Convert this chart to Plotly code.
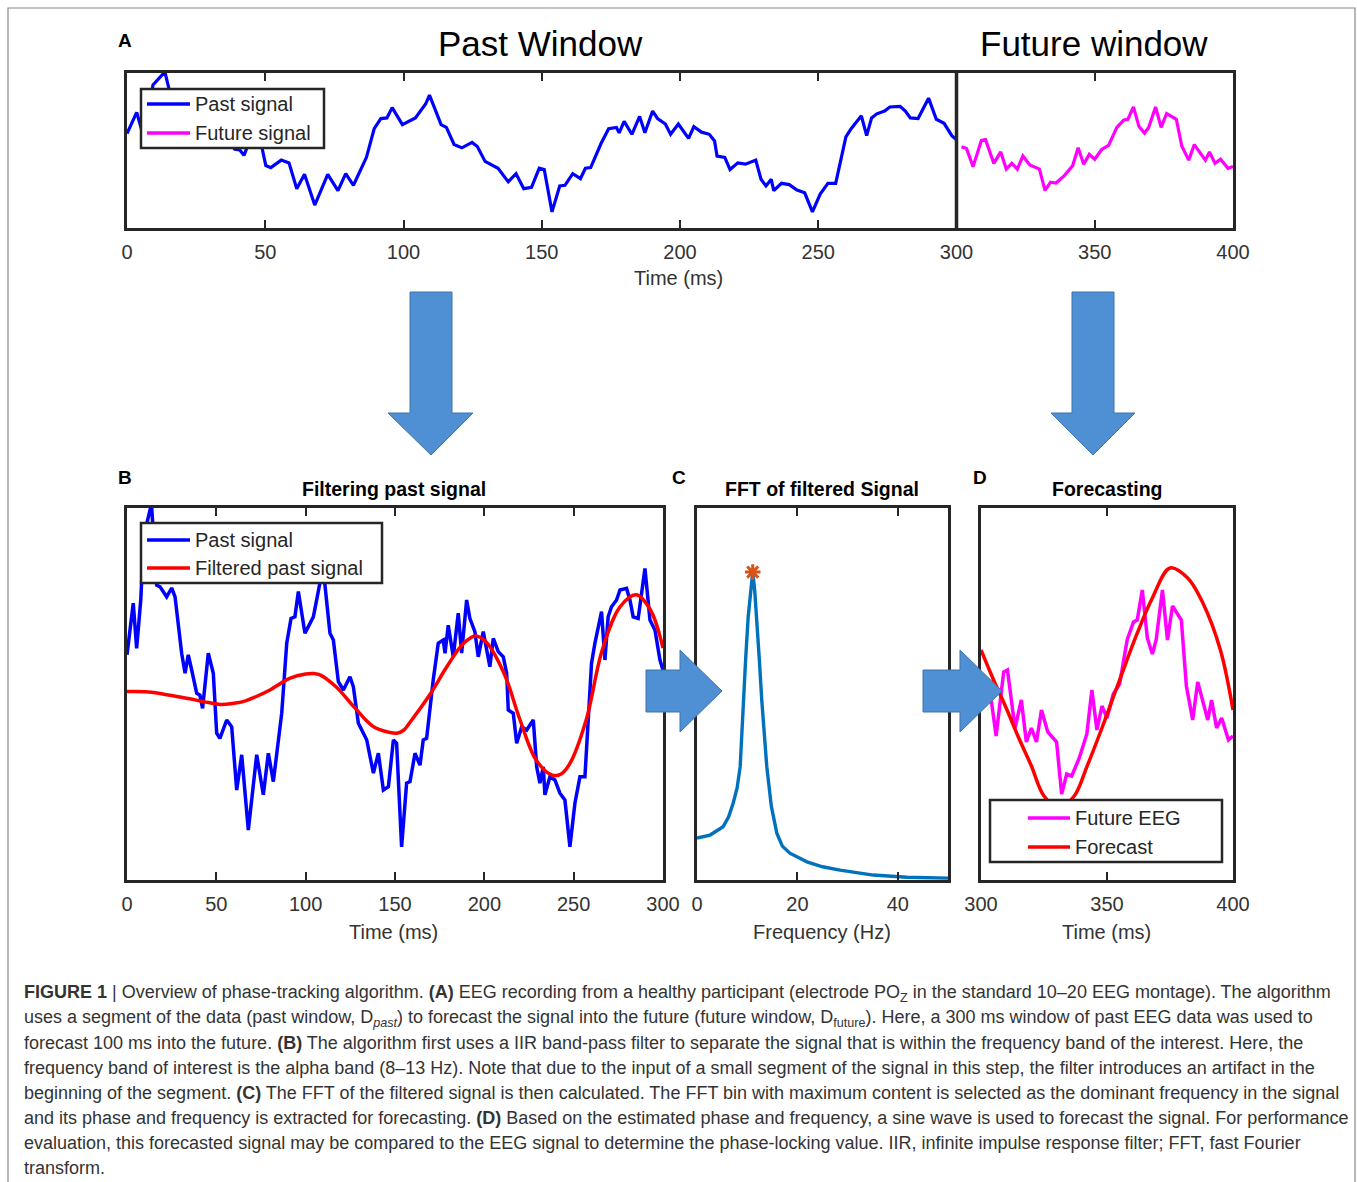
import plotly.graph_objects as go

W, H = 1357, 1182
FONT = "Liberation Sans, Arial, Helvetica, sans-serif"
AX_COLOR = "#262626"

# ---------------- data ----------------
# EEG at electrode POz, past window (ms, µV)
past_t = [0, 3.5, 5.4, 7.7, 9.4, 13.7, 16.6, 18.5, 22.2, 25.0, 26.9, 30.6, 32.5, 34.3, 36.2,
          39.0, 40.8, 42.3, 45.5, 48.3, 50.2, 52.0, 55.8, 58.6, 61.4, 64.2, 67.9, 72.6, 76.3,
          79.1, 81.9, 86.6, 89.4, 91.8, 94.0, 95.9, 99.6, 104.3, 108.0, 109.4, 110.5, 113.6,
          115.5, 118.3, 121.1, 124.8, 126.7, 129.5, 134.2, 137.9, 140.7, 143.5, 146.3, 149.1,
          150.9, 153.7, 156.5, 158.4, 161.2, 164.0, 165.8, 167.7, 171.4, 174.2, 177.0, 178.0,
          179.8, 182.6, 185.4, 187.3, 190.1, 191.9, 194.7, 196.6, 199.4, 203.1, 205.0, 207.8,
          210.6, 212.5, 213.4, 216.2, 218.1, 220.9, 223.7, 227.4, 229.3, 231.1, 233.0, 233.9,
          236.7, 239.5, 242.3, 245.1, 247.9, 250.7, 253.5, 256.3, 260.0, 261.9, 265.6, 267.5,
          269.3, 271.2, 274.0, 275.9, 279.6, 281.5, 283.3, 286.1, 289.9, 292.7, 295.5, 298.3,
          300.0]
past_uv = [9.8, 22.7, 11.4, 23.5, 39.5, 47.5, 27.2, 26.8, 24.3, 26.5, 24.3, 10.2, 5.2, 9.8, 6.0,
           0.2, -0.3, -3.6, 10.2, 5.2, -9.8, -11.1, -6.5, -8.2, -24.0, -15.2, -34.0, -15.2, -25.2,
           -14.8, -21.9, -4.8, 12.7, 18.9, 19.3, 25.6, 15.2, 19.3, 27.8, 33.3, 28.5, 15.2,
           13.5, 3.1, 1.0, 4.3, 1.8, -7.3, -11.5, -19.8, -14.8, -24.0, -23.2, -11.5,
           -12.3, -38.2, -22.3, -21.9, -14.8, -17.8, -11.5, -11.1, 3.5, 12.7, 13.5, 10.2,
           17.2, 9.3, 20.2, 10.2, 23.5, 18.9, 15.6, 9.3, 15.6, 6.8, 13.9, 10.6,
           9.3, 5.2, -4.0, -4.8, -12.3, -8.2, -9.0, -6.5, -18.2, -22.3, -18.2, -25.2,
           -20.7, -21.5, -24.8, -26.5, -38.2, -27.3, -20.7, -20.7, 7.7, 12.7, 20.6, 8.5,
           19.3, 21.8, 23.5, 26.0, 26.4, 23.5, 19.3, 18.9, 31.4, 18.5, 16.0, 8.5,
           6.0]

# EEG in the future window (ms, µV)
future_t = [301.8, 303.6, 306.0, 309.0, 310.5, 313.5, 316.0, 318.0, 320.0, 322.0, 324.0, 326.5,
            330.0, 332.0, 334.0, 336.0, 339.0, 342.0, 344.0, 346.0, 348.0, 350.0, 352.5, 355.0,
            358.0, 360.5, 362.0, 364.0, 366.0, 368.0, 369.5, 372.0, 374.0, 376.0, 379.5, 381.5,
            384.0, 386.0, 390.0, 391.5, 393.5, 395.5, 398.2, 400.0]
future_uv = [1.7, 0.6, -10.5, 5.5, 6.0, -8.5, -1.5, -12.0, -8.5, -12.0, -4.0, -9.5,
             -12.0, -25.0, -20.0, -20.5, -16.0, -10.0, 1.0, -9.0, -3.0, -6.0, 0.0, 2.5,
             13.5, 18.0, 18.5, 26.0, 14.0, 10.0, 13.5, 26.0, 13.5, 22.0, 18.5, 2.0,
             -6.5, 3.0, -6.5, -1.5, -8.5, -6.0, -11.5, -10.5]

# IIR band-pass (8-13 Hz) output over the past window (ms, µV)
filtered_t = [0, 12, 24, 35, 43, 52, 60, 65, 73, 80, 91, 100, 105, 108, 117, 127, 138, 147, 151,
              155, 158, 170, 179, 188, 195, 201, 211, 220, 229, 238, 243, 248, 257, 266, 276,
              285, 293, 300]
filtered_uv = [0.6, 0.5, -0.3, -1.2, -1.9, -2.6, -2.3, -1.9, -0.5, 1.0, 3.9, 5.0, 5.1, 4.8, 1.8,
               -3.2, -8.2, -9.6, -9.8, -9.0, -7.3, 0.2, 6.8, 12.5, 14.5, 13.0, 5.2, -6.5, -16.5,
               -20.3, -20.0, -17.3, -6.5, 11.0, 21.8, 24.8, 21.0, 11.5]

# Sine-wave forecast over the future window (ms, µV)
forecast_t = [300, 305, 310, 315, 320, 325, 331, 337, 342, 348, 355, 362, 368, 375, 382, 388,
              395, 400]
forecast_uv = [11.0, 3.5, -3.5, -11.0, -18.0, -25.5, -28.5, -25.5, -18.2, -8.5, 3.5, 15.2,
               24.0, 31.5, 29.0, 22.8, 11.0, -4.0]

# FFT magnitude of the filtered signal (Hz, normalised)
fft_freq = [0, 2.6, 5.2, 6.3, 7.2, 8.0, 8.6, 9.2, 9.7, 10.2, 10.7, 11.1, 11.5, 11.9, 12.4,
            12.9, 13.4, 13.9, 14.8, 15.9, 17.0, 18.5, 21.9, 25.0, 28.5, 35.1, 41.8, 50.0]
fft_power = [0.136, 0.146, 0.173, 0.205, 0.249, 0.30, 0.368, 0.584, 0.72, 0.855, 0.94, 1.0,
             0.94, 0.855, 0.72, 0.584, 0.47, 0.368, 0.24, 0.152, 0.11, 0.087, 0.059, 0.043,
             0.032, 0.016, 0.009, 0.006]

A_TICKS = [0, 50, 100, 150, 200, 250, 300, 350, 400]
B_TICKS = [0, 50, 100, 150, 200, 250, 300]
C_TICKS = [0, 20, 40]
D_TICKS = [300, 350, 400]
WINDOW_SPLIT = 300

BLUE, MAGENTA, RED = "#0000FF", "#FF00FF", "#FF0000"
FFT_BLUE, PEAK_ORANGE = "#0072BD", "#D95319"
ARROW_FILL, ARROW_EDGE = "#4F8FD3", "#3E74AC"


# ---------------- helpers (pixel -> paper) ----------------
def fx(x):
    return x / W


def fy(y):
    return 1 - y / H


def xaxis_style(x0, x1, rng, ticks):
    return dict(domain=[fx(x0), fx(x1)], range=rng, tickvals=ticks, ticks="inside", ticklen=8,
                tickwidth=2, tickcolor=AX_COLOR, showline=True, linewidth=3, linecolor=AX_COLOR,
                mirror="ticks", showgrid=False, zeroline=False, automargin=False, fixedrange=True,
                tickfont=dict(family=FONT, size=20, color="#333333"), ticklabelstandoff=4)


def yaxis_style(y0, y1, rng):
    return dict(domain=[fy(y1), fy(y0)], range=rng, showline=True, linewidth=3,
                linecolor=AX_COLOR, mirror=True, ticks="", showticklabels=False, showgrid=False,
                zeroline=False, automargin=False, fixedrange=True)


fig = go.Figure()

# ---------------- A: past / future window ----------------
fig.add_trace(go.Scatter(x=past_t, y=past_uv, mode="lines", line=dict(color=BLUE, width=3.2),
                         xaxis="x", yaxis="y", showlegend=False))
fig.add_trace(go.Scatter(x=future_t, y=future_uv, mode="lines",
                         line=dict(color=MAGENTA, width=3.2), xaxis="x", yaxis="y",
                         showlegend=False))

# ---------------- B: filtering ----------------
fig.add_trace(go.Scatter(x=past_t, y=past_uv, mode="lines", line=dict(color=BLUE, width=3.5),
                         xaxis="x2", yaxis="y2", showlegend=False))
fig.add_trace(go.Scatter(x=filtered_t, y=filtered_uv, mode="lines",
                         line=dict(color=RED, width=3.5, shape="spline", smoothing=1.0),
                         xaxis="x2", yaxis="y2", showlegend=False))

# ---------------- C: FFT ----------------
fig.add_trace(go.Scatter(x=fft_freq, y=fft_power, mode="lines",
                         line=dict(color=FFT_BLUE, width=3.4), xaxis="x3", yaxis="y3",
                         showlegend=False))
peak_i = max(range(len(fft_power)), key=lambda i: fft_power[i])
fig.add_trace(go.Scatter(x=[fft_freq[peak_i]], y=[fft_power[peak_i]], mode="markers",
                         marker=dict(symbol="asterisk-open", size=13, color=PEAK_ORANGE,
                                     line=dict(color=PEAK_ORANGE, width=3)),
                         xaxis="x3", yaxis="y3", showlegend=False))

# ---------------- D: forecasting ----------------
fig.add_trace(go.Scatter(x=future_t, y=future_uv, mode="lines",
                         line=dict(color=MAGENTA, width=3.5), xaxis="x4", yaxis="y4",
                         showlegend=False))
fig.add_trace(go.Scatter(x=forecast_t, y=forecast_uv, mode="lines",
                         line=dict(color=RED, width=3.5, shape="spline", smoothing=1.0),
                         xaxis="x4", yaxis="y4", showlegend=False))

fig.update_layout(
    width=W, height=H, margin=dict(l=0, r=0, t=0, b=0),
    paper_bgcolor="white", plot_bgcolor="white", showlegend=False,
    font=dict(family=FONT, color="#262626"),
    xaxis=xaxis_style(127, 1233, [0, 400], A_TICKS),
    yaxis=yaxis_style(73, 228, [-48.05, 46.8]),
    xaxis2=xaxis_style(127, 663, [0, 300], B_TICKS),
    yaxis2=yaxis_style(508, 880, [-46.5, 46.5]),
    xaxis3=xaxis_style(697, 948, [0, 50], C_TICKS),
    yaxis3=yaxis_style(508, 880, [0, 1.208]),
    xaxis4=xaxis_style(981, 1233, [300, 400], D_TICKS),
    yaxis4=yaxis_style(508, 880, [-46.5, 46.5]),
)
for i in ["2", "3", "4"]:
    fig.layout["yaxis" + i].anchor = "x" + i
    fig.layout["xaxis" + i].anchor = "y" + i

shapes = []
annotations = []

# boundary between past and future windows in A
shapes.append(dict(type="line", xref="x", yref="y domain", x0=WINDOW_SPLIT, x1=WINDOW_SPLIT,
                   y0=0, y1=1, line=dict(color=AX_COLOR, width=3.5), layer="above"))


def text(x, y, s, size=20, bold=False, anchor="center", color="#262626"):
    annotations.append(dict(xref="paper", yref="paper", x=fx(x), y=fy(y),
                            text=f"<b>{s}</b>" if bold else s, showarrow=False,
                            xanchor=anchor, yanchor="middle", align="left",
                            font=dict(family=FONT, size=size, color=color)))


def legend_box(x0, y0, x1, y1, entries, line_x0, line_x1, text_x, rows):
    shapes.append(dict(type="rect", xref="paper", yref="paper", x0=fx(x0), x1=fx(x1),
                       y0=fy(y0), y1=fy(y1), fillcolor="white",
                       line=dict(color=AX_COLOR, width=2.5), layer="above"))
    for (label, color), ry in zip(entries, rows):
        shapes.append(dict(type="line", xref="paper", yref="paper", x0=fx(line_x0),
                           x1=fx(line_x1), y0=fy(ry), y1=fy(ry),
                           line=dict(color=color, width=3.5), layer="above"))
        text(text_x, ry, label, size=20, anchor="left")


legend_box(141, 89, 324, 148, [("Past signal", BLUE), ("Future signal", MAGENTA)],
           147, 190, 193, [104, 133])
legend_box(141, 523, 382, 583, [("Past signal", BLUE), ("Filtered past signal", RED)],
           147, 190, 193, [540, 568])
legend_box(990, 800, 1222, 862, [("Future EEG", MAGENTA), ("Forecast", RED)],
           1028, 1070, 1073, [818, 847])


# block arrows
def arrow(points):
    path = "M " + " L ".join(f"{fx(x):.5f},{fy(y):.5f}" for x, y in points) + " Z"
    shapes.append(dict(type="path", xref="paper", yref="paper", path=path,
                       fillcolor=ARROW_FILL, line=dict(color=ARROW_EDGE, width=1),
                       layer="above"))


arrow([(410, 292), (452, 292), (452, 413), (473, 413), (431, 455), (388, 413), (410, 413)])
arrow([(1072, 292), (1114, 292), (1114, 413), (1135, 413), (1093, 455), (1051, 413), (1072, 413)])
arrow([(646, 670), (680, 670), (680, 650), (722, 691), (680, 732), (680, 712), (646, 712)])
arrow([(923, 670), (960, 670), (960, 650), (1002, 691), (960, 732), (960, 712), (923, 712)])

# outer frame
shapes.append(dict(type="rect", xref="paper", yref="paper", x0=fx(8), x1=fx(1355), y0=fy(8),
                   y1=fy(1230), line=dict(color="#8a8a8a", width=1.2), layer="below"))

# titles and labels
text(540, 44, "Past Window", size=35, color="#000000")
text(1094, 44, "Future window", size=35, color="#000000")
text(125, 40, "A", size=19, bold=True, color="#000000")
text(125, 477, "B", size=19, bold=True, color="#000000")
text(679, 477, "C", size=19, bold=True, color="#000000")
text(980, 477, "D", size=19, bold=True, color="#000000")
text(394, 489, "Filtering past signal", size=19.5, bold=True, color="#000000")
text(822, 489, "FFT of filtered Signal", size=19.5, bold=True, color="#000000")
text(1107, 489, "Forecasting", size=19.5, bold=True, color="#000000")
text(678, 278, "Time (ms)", color="#333333")
text(393, 932, "Time (ms)", color="#333333")
text(822, 932, "Frequency (Hz)", color="#333333")
text(1106, 932, "Time (ms)", color="#333333")

# caption
caption = [
    "<b>FIGURE 1</b> | Overview of phase-tracking algorithm. <b>(A)</b> EEG recording from a healthy "
    "participant (electrode PO<sub>Z</sub> in the standard 10–20 EEG montage). The algorithm",
    "uses a segment of the data (past window, D<sub><i>past</i></sub>) to forecast the signal into the "
    "future (future window, D<sub>future</sub>). Here, a 300 ms window of past EEG data was used to",
    "forecast 100 ms into the future. <b>(B)</b> The algorithm first uses a IIR band-pass filter to "
    "separate the signal that is within the frequency band of the interest. Here, the",
    "frequency band of interest is the alpha band (8–13 Hz). Note that due to the input of a small "
    "segment of the signal in this step, the filter introduces an artifact in the",
    "beginning of the segment. <b>(C)</b> The FFT of the filtered signal is then calculated. The FFT "
    "bin with maximum content is selected as the dominant frequency in the signal",
    "and its phase and frequency is extracted for forecasting. <b>(D)</b> Based on the estimated phase "
    "and frequency, a sine wave is used to forecast the signal. For performance",
    "evaluation, this forecasted signal may be compared to the EEG signal to determine the "
    "phase-locking value. IIR, infinite impulse response filter; FFT, fast Fourier",
    "transform.",
]
for k, line in enumerate(caption):
    text(22, 993 + 25 * k, line, size=18, anchor="left", color="#333333")

fig.update_layout(shapes=shapes, annotations=annotations)
fig.write_html("out.html")
